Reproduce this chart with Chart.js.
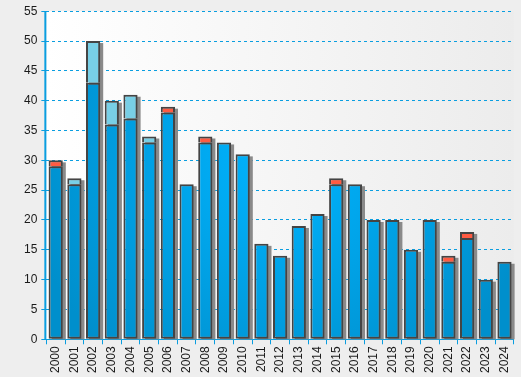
<!DOCTYPE html>
<html>
<head>
<meta charset="utf-8">
<script src="https://cdn.jsdelivr.net/npm/chart.js@4.4.1/dist/chart.umd.min.js"></script>
<style>
  html, body { margin: 0; padding: 0; background: #eeeeee; }
  #wrap { width: 521px; height: 377px; }
</style>
</head>
<body>
<div id="wrap"><canvas id="chart"></canvas></div>
<script>
// years and the three stacked series
const years = ['2000','2001','2002','2003','2004','2005','2006','2007','2008','2009','2010','2011','2012',
  '2013','2014','2015','2016','2017','2018','2019','2020','2021','2022','2023','2024'];
const mainValues  = [29, 26, 43, 36, 37, 33, 38, 26, 33, 33, 31, 16, 14, 19, 21, 26, 26, 20, 20, 15, 20, 13, 17, 10, 13];
const lightValues = [0, 1, 7, 4, 4, 1, 0, 0, 0, 0, 0, 0, 0, 0, 0, 0, 0, 0, 0, 0, 0, 0, 0, 0, 0];
const redValues   = [1, 0, 0, 0, 0, 0, 1, 0, 1, 0, 0, 0, 0, 0, 0, 1, 0, 0, 0, 0, 0, 1, 1, 0, 0];
const yTicks = [0, 5, 10, 15, 20, 25, 30, 35, 40, 45, 50, 55];

const blueLine = '#0a9ee0';
const noZero = arr => arr.map(v => (v === 0 ? null : v));

// blue fill: brighter in the middle, darker towards the sides
function blueFill(context) {
  const chart = context.chart;
  const area = chart.chartArea;
  if (!area) return '#00a8ee';
  const cx = (area.left + area.right) / 2;
  const cy = area.top + (area.bottom - area.top) * 0.45;
  const g = chart.ctx.createRadialGradient(cx, cy, 0, cx, cy, (area.right - area.left) * 0.55);
  g.addColorStop(0, '#00b4ff');
  g.addColorStop(1, '#008fcc');
  return g;
}

const backgroundPlugin = {
  id: 'bg',
  beforeDraw(chart) {
    const ctx = chart.ctx;
    const a = chart.chartArea;
    ctx.save();
    ctx.fillStyle = '#eeeeee';
    ctx.fillRect(0, 0, chart.width, chart.height);
    const g = ctx.createLinearGradient(a.left, 0, a.right, 0);
    g.addColorStop(0, '#ffffff');
    g.addColorStop(1, '#ececec');
    ctx.fillStyle = g;
    ctx.fillRect(a.left, a.top, a.right - a.left, a.bottom - a.top);
    ctx.restore();
  },
  afterDraw(chart) {
    // solid left axis line (grid lines are dashed)
    const ctx = chart.ctx;
    const a = chart.chartArea;
    ctx.save();
    ctx.strokeStyle = blueLine;
    ctx.lineWidth = 2;
    ctx.beginPath();
    ctx.moveTo(a.left - 1, a.top);
    ctx.lineTo(a.left - 1, a.bottom);
    ctx.stroke();
    ctx.restore();
  }
};

// grey drop shadow behind each whole stack, taken from the bar elements
const shadowPlugin = {
  id: 'shadow',
  beforeDatasetsDraw(chart) {
    const ctx = chart.ctx;
    const base = chart.scales.y.getPixelForValue(0);
    ctx.save();
    ctx.fillStyle = '#8a8a8a';
    years.forEach((y, i) => {
      let top = null, left = null, w = null;
      chart.data.datasets.forEach((ds, d) => {
        const el = chart.getDatasetMeta(d).data[i];
        if (!el || ds.data[i] == null) return;
        const p = el.getProps(['x', 'y', 'width'], true);
        if (top === null || p.y < top) top = p.y;
        left = p.x - p.width / 2;
        w = p.width;
      });
      if (top !== null) ctx.fillRect(left + 3, top + 2, w, base - top - 2);
    });
    ctx.restore();
  }
};

const common = {
  borderColor: '#444444',
  borderWidth: 2,
  barPercentage: 0.76,
  categoryPercentage: 1
};

new Chart(document.getElementById('chart'), {
  type: 'bar',
  data: {
    labels: years,
    datasets: [
      Object.assign({ label: 'a', data: mainValues, backgroundColor: blueFill, borderSkipped: false }, common),
      Object.assign({ label: 'b', data: noZero(lightValues), backgroundColor: '#78cfe6', borderSkipped: 'start' }, common),
      Object.assign({ label: 'c', data: noZero(redValues), backgroundColor: '#ff5b42', borderSkipped: 'start' }, common)
    ]
  },
  options: {
    responsive: true,
    maintainAspectRatio: false,
    animation: false,
    layout: { padding: { top: 7, right: 5, left: 20, bottom: 2 } },
    plugins: { legend: { display: false }, tooltip: { enabled: false } },
    scales: {
      x: {
        stacked: true,
        grid: { display: true, drawOnChartArea: false, drawTicks: true, tickLength: 5, color: blueLine, offset: true },
        border: { display: true, color: blueLine, width: 1 },
        ticks: {
          color: '#1a1a1a',
          font: { family: 'Liberation Sans, Arial, sans-serif', size: 12 },
          minRotation: 90, maxRotation: 90, padding: 2, autoSkip: false
        }
      },
      y: {
        stacked: true,
        min: 0, max: 55,
        afterBuildTicks(axis) { axis.ticks = yTicks.map(v => ({ value: v })); },
        grid: { color: blueLine, lineWidth: 1, tickLength: 5, drawTicks: true, tickBorderDash: [] },
        border: { display: false, dash: [3, 3] },
        ticks: {
          color: '#1a1a1a',
          font: { family: 'Liberation Sans, Arial, sans-serif', size: 12 },
          padding: 4
        }
      }
    }
  },
  plugins: [backgroundPlugin, shadowPlugin]
});
</script>
</body>
</html>
